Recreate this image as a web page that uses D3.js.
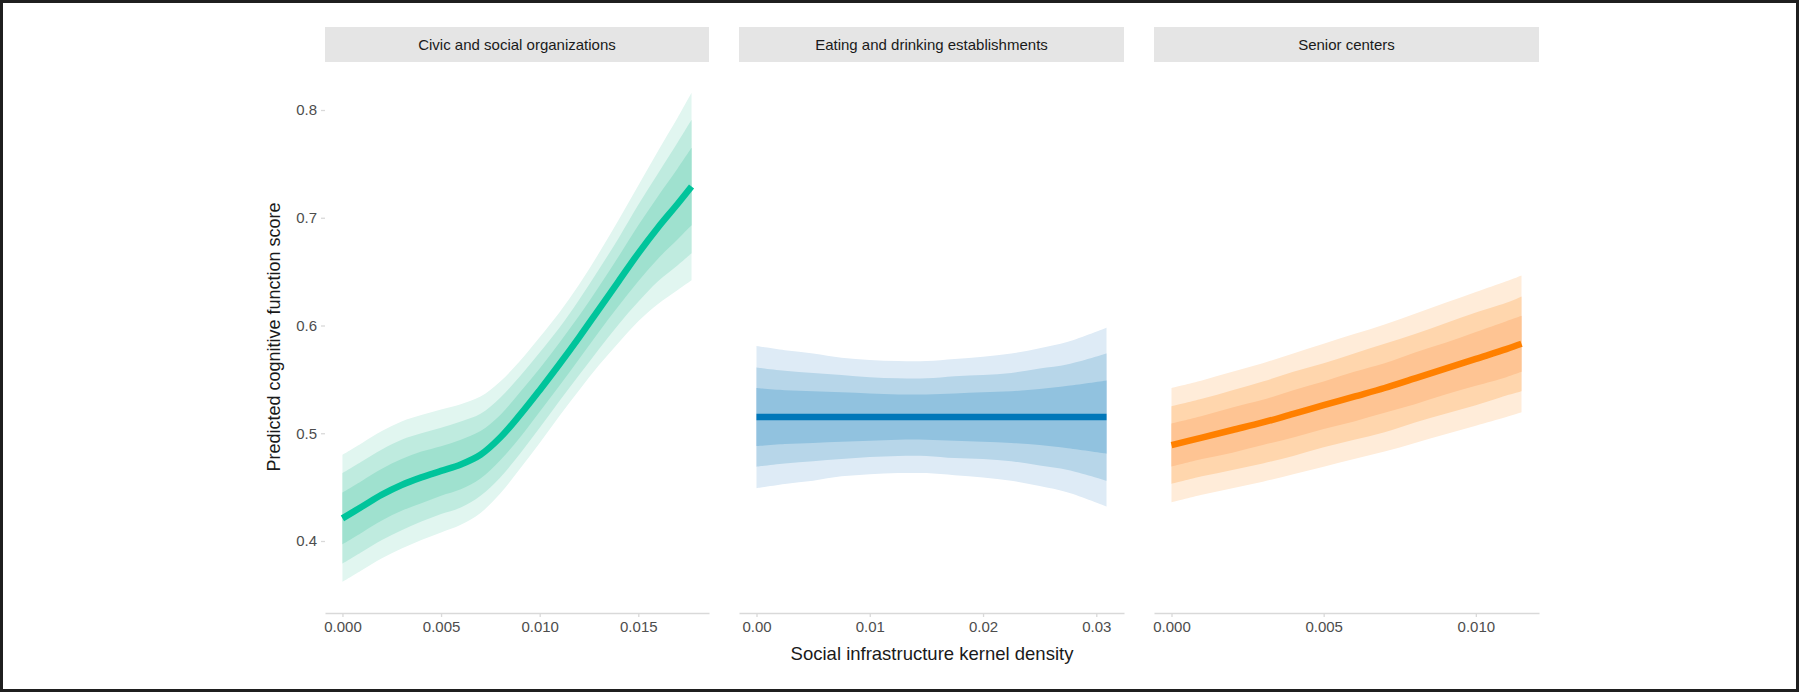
<!DOCTYPE html>
<html>
<head>
<meta charset="utf-8">
<script src="https://cdn.jsdelivr.net/npm/d3@7"></script>
<style>
  html, body { margin: 0; padding: 0; background: #fff; }
  svg { display: block; }
  text { font-family: "Liberation Sans", Arial, Helvetica, sans-serif; }
</style>
</head>
<body>
<svg id="chart" width="1800" height="693"></svg>
<script>
// ---------------- data ----------------
const facets = ["Civic and social organizations", "Eating and drinking establishments", "Senior centers"];

const yTicks = [0.4, 0.5, 0.6, 0.7, 0.8];
const yTickLabels = ["0.4", "0.5", "0.6", "0.7", "0.8"];

// Civic and social organizations
const civicX     = [0, 0.001, 0.002, 0.003, 0.004, 0.005, 0.006, 0.007, 0.008, 0.009, 0.010, 0.011, 0.012, 0.013, 0.014, 0.015, 0.016, 0.017, 0.0177];
const civicFit   = [0.421, 0.432, 0.443, 0.452, 0.459, 0.465, 0.471, 0.480, 0.496, 0.517, 0.540, 0.564, 0.589, 0.615, 0.641, 0.667, 0.691, 0.713, 0.729];
const civicOuter = [0.059, 0.059, 0.059, 0.059, 0.058, 0.057, 0.056, 0.054, 0.052, 0.050, 0.049, 0.048, 0.049, 0.052, 0.057, 0.063, 0.071, 0.080, 0.087];
const civicMid   = [0.042, 0.042, 0.042, 0.042, 0.041, 0.040, 0.040, 0.038, 0.037, 0.036, 0.035, 0.034, 0.035, 0.037, 0.040, 0.045, 0.050, 0.057, 0.062];
const civicInner = [0.024, 0.024, 0.024, 0.024, 0.024, 0.023, 0.023, 0.022, 0.021, 0.021, 0.020, 0.020, 0.020, 0.021, 0.023, 0.026, 0.029, 0.033, 0.036];
const civicTicks = [0, 0.005, 0.010, 0.015];
const civicTickLabels = ["0.000", "0.005", "0.010", "0.015"];

// Eating and drinking establishments
const eatX     = [0, 0.0025, 0.005, 0.0075, 0.010, 0.0125, 0.015, 0.0175, 0.020, 0.0225, 0.025, 0.0275, 0.0309];
const eatFit   = [0.515, 0.515, 0.515, 0.515, 0.515, 0.515, 0.515, 0.515, 0.515, 0.515, 0.515, 0.515, 0.515];
const eatOuter = [0.066, 0.062, 0.059, 0.055, 0.053, 0.052, 0.052, 0.054, 0.056, 0.059, 0.064, 0.070, 0.083];
const eatMid   = [0.046, 0.043, 0.041, 0.039, 0.037, 0.036, 0.036, 0.038, 0.039, 0.041, 0.045, 0.049, 0.059];
const eatInner = [0.027, 0.025, 0.024, 0.023, 0.022, 0.021, 0.021, 0.022, 0.023, 0.024, 0.026, 0.029, 0.034];
const eatTicks = [0, 0.01, 0.02, 0.03];
const eatTickLabels = ["0.00", "0.01", "0.02", "0.03"];

// Senior centers
const seniorX     = [0, 0.001, 0.002, 0.003, 0.004, 0.005, 0.006, 0.007, 0.008, 0.009, 0.010, 0.011, 0.0115];
const seniorFit   = [0.489, 0.496, 0.503, 0.510, 0.518, 0.526, 0.534, 0.542, 0.551, 0.560, 0.569, 0.578, 0.583];
const seniorOuter = [0.053, 0.053, 0.054, 0.055, 0.056, 0.057, 0.058, 0.059, 0.060, 0.061, 0.062, 0.063, 0.0635];
const seniorMid   = [0.036, 0.036, 0.037, 0.038, 0.039, 0.039, 0.040, 0.041, 0.041, 0.042, 0.043, 0.043, 0.044];
const seniorInner = [0.020, 0.020, 0.021, 0.021, 0.022, 0.022, 0.023, 0.023, 0.024, 0.024, 0.025, 0.026, 0.026];
const seniorTicks = [0, 0.005, 0.010];
const seniorTickLabels = ["0.000", "0.005", "0.010"];

// ---------------- layout / style ----------------
const panels = [
  { name: facets[0], x: civicX, fit: civicFit, bands: [civicOuter, civicMid, civicInner], ticks: civicTicks, labels: civicTickLabels,
    left: 325, right: 709, line: "#00c49b", fills: ["#e1f6f0", "#bfebdf", "#9fe1cf"] },
  { name: facets[1], x: eatX, fit: eatFit, bands: [eatOuter, eatMid, eatInner], ticks: eatTicks, labels: eatTickLabels,
    left: 739, right: 1124, line: "#0077b9", fills: ["#deebf6", "#b7d6e9", "#91c2df"] },
  { name: facets[2], x: seniorX, fit: seniorFit, bands: [seniorOuter, seniorMid, seniorInner], ticks: seniorTicks, labels: seniorTickLabels,
    left: 1154, right: 1539, line: "#ff8000", fills: ["#ffecd9", "#ffd6ad", "#fec493"] }
];

const stripTop = 27, stripBottom = 62, panelBottom = 613;

const svg = d3.select("#chart");
svg.append("rect").attr("x", 0).attr("y", 0).attr("width", 1800).attr("height", 693).attr("fill", "#fff");

const y = d3.scaleLinear().domain([0.4, 0.8]).range([541, 110]);
const curve = d3.curveCatmullRom.alpha(0.5);

panels.forEach((p, i) => {
  const xmax = d3.max(p.x);
  const pad = xmax * 0.05;
  const x = d3.scaleLinear().domain([-pad, xmax + pad]).range([p.left, p.right]);
  const g = svg.append("g");

  // strip
  g.append("rect")
    .attr("x", p.left).attr("y", stripTop)
    .attr("width", p.right - p.left).attr("height", stripBottom - stripTop)
    .attr("fill", "#e5e5e5");
  g.append("text")
    .attr("x", (p.left + p.right) / 2).attr("y", (stripTop + stripBottom) / 2 + 5.2)
    .attr("text-anchor", "middle")
    .attr("font-size", 15).attr("fill", "#1a1a1a")
    .text(p.name);

  // ribbons (outer -> inner)
  const idx = d3.range(p.x.length);
  p.bands.forEach((hw, b) => {
    const area = d3.area()
      .x(k => x(p.x[k]))
      .y0(k => y(p.fit[k] - hw[k]))
      .y1(k => y(p.fit[k] + hw[k]))
      .curve(curve);
    g.append("path").datum(idx).attr("d", area).attr("fill", p.fills[b]);
  });

  // fit line
  const line = d3.line().x(k => x(p.x[k])).y(k => y(p.fit[k])).curve(curve);
  g.append("path").datum(idx).attr("d", line)
    .attr("fill", "none").attr("stroke", p.line).attr("stroke-width", 6.5);

  // x axis
  const ax = g.append("g").attr("transform", `translate(0,${panelBottom})`)
    .call(d3.axisBottom(x).tickValues(p.ticks).tickFormat((d, j) => p.labels[j]).tickSize(4).tickSizeOuter(0).tickPadding(4));
  ax.select(".domain").attr("stroke", "#d9d9d9").attr("stroke-width", 1.3);
  ax.selectAll(".tick line").attr("stroke", "#d9d9d9").attr("stroke-width", 1.3);
  ax.selectAll(".tick text").attr("font-size", 15).attr("fill", "#4d4d4d")
    .attr("font-family", "Liberation Sans, Arial, sans-serif");

  if (i === 0) {
    const ay = g.append("g").attr("transform", `translate(${p.left},0)`)
      .call(d3.axisLeft(y).tickValues(yTicks).tickFormat((d, j) => yTickLabels[j]).tickSize(4).tickPadding(4));
    ay.select(".domain").remove();
    ay.selectAll(".tick line").attr("stroke", "#d9d9d9").attr("stroke-width", 1.3);
    ay.selectAll(".tick text").attr("font-size", 15).attr("fill", "#4d4d4d")
      .attr("font-family", "Liberation Sans, Arial, sans-serif");
  }
});

// axis titles
svg.append("text")
  .attr("transform", `translate(280,337) rotate(-90)`)
  .attr("text-anchor", "middle")
  .attr("font-size", 18).attr("fill", "#1a1a1a")
  .text("Predicted cognitive function score");

svg.append("text")
  .attr("x", (325 + 1539) / 2).attr("y", 660)
  .attr("text-anchor", "middle")
  .attr("font-size", 18.5).attr("fill", "#1a1a1a")
  .text("Social infrastructure kernel density");

// outer frame
svg.append("rect")
  .attr("x", 1.5).attr("y", 1.5).attr("width", 1796).attr("height", 689)
  .attr("fill", "none").attr("stroke", "#1f1f1f").attr("stroke-width", 3);
</script>
</body>
</html>
